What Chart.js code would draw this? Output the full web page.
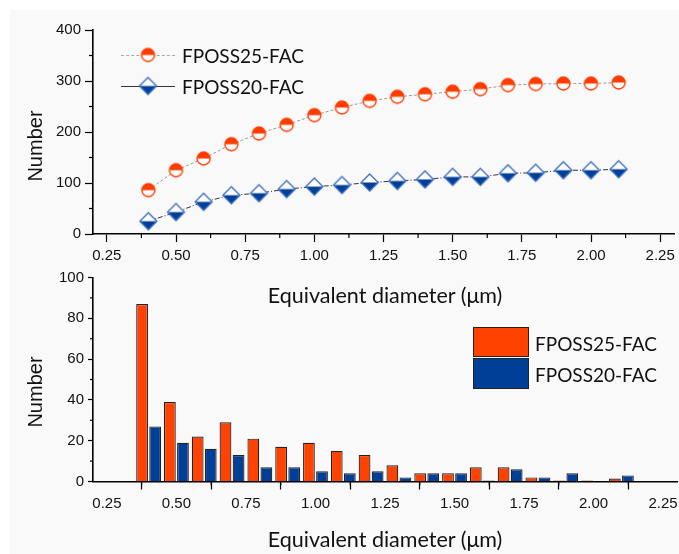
<!DOCTYPE html>
<html>
<head>
<meta charset="utf-8">
<script src="https://cdn.jsdelivr.net/npm/chart.js"></script>
<style>
  body { margin: 0; background: #fff; }
  #wrap { position: relative; width: 679px; height: 554px; overflow: hidden; background: #fff; }
  #panel { position: absolute; left: 10px; top: 10px; right: 0; bottom: 0; background: #f9f9f9; }
  canvas.chart { position: absolute; left: 0; }
  .lbl { position: absolute; white-space: nowrap; color: #111; }
  .ytitle { font: 20px "Liberation Sans", Arial, sans-serif; transform: translate(-50%, -50%) rotate(-90deg); }
  .xtitle { font: 21.5px Lato, "Open Sans", sans-serif; transform: translate(-50%, -50%); }
  .legtxt { font: 19px Lato, "Open Sans", sans-serif; transform: translateY(-50%); }
  .legline { position: absolute; height: 0; }
  .legbox { position: absolute; border: 1.5px solid #222; box-sizing: border-box; }
  .mk { position: absolute; transform: translate(-50%, -50%); line-height: 0; }
</style>
</head>
<body>
<div id="wrap">
  <div id="panel"></div>
  <canvas id="topChart" class="chart" style="top:0" width="679" height="266"></canvas>
  <canvas id="histChart" class="chart" style="top:262px" width="679" height="292"></canvas>

  <div class="lbl ytitle" style="left:35px; top:146px">Number</div>
  <div class="lbl ytitle" style="left:35px; top:392px">Number</div>
  <div class="lbl xtitle" style="left:385px; top:295px">Equivalent diameter (μm)</div>
  <div class="lbl xtitle" style="left:385px; top:539px">Equivalent diameter (μm)</div>

  <div class="legline" style="left:121px; top:55px; width:54px; border-top:1px dashed #aaa"></div>
  <div class="legline" style="left:121px; top:86px; width:54px; border-top:1px solid #333"></div>
  <div class="mk" id="mk1" style="left:148px; top:55px"></div>
  <div class="mk" id="mk2" style="left:148px; top:86px"></div>
  <div class="lbl legtxt" style="left:182px; top:55px">FPOSS25-FAC</div>
  <div class="lbl legtxt" style="left:182px; top:86px">FPOSS20-FAC</div>

  <div class="legbox" style="left:473px; top:327px; width:56px; height:30px; background:#ff4200"></div>
  <div class="legbox" style="left:473px; top:358px; width:56px; height:31px; background:#003f98"></div>
  <div class="lbl legtxt" style="left:535px; top:343px">FPOSS25-FAC</div>
  <div class="lbl legtxt" style="left:535px; top:374px">FPOSS20-FAC</div>
</div>

<script>
// diametros (um)
const diametros = [0.4, 0.5, 0.6, 0.7, 0.8, 0.9, 1.0, 1.1, 1.2, 1.3, 1.4, 1.5, 1.6, 1.7, 1.8, 1.9, 2.0, 2.1];

// acumulado (grafico de arriba)
const acum25 = [86, 125, 148, 176, 197, 214, 233, 248, 261, 269, 274, 279, 284, 292, 294, 295, 295, 297];
const acum20 = [25, 43, 63, 76, 80, 88, 93, 96, 101, 104, 107, 112, 112, 119, 120, 125, 125, 127];

// histograma (grafico de abajo)
const hist25 = [87, 39, 22, 29, 21, 17, 19, 15, 13, 8, 4, 4, 7, 7, 2, 0.5, 0.5, 1.5];
const hist20 = [27, 19, 16, 13, 7, 7, 5, 4, 5, 2, 4, 4, 0.5, 6, 2, 4, 0, 3];

const ticksX = [0.25, 0.5, 0.75, 1.0, 1.25, 1.5, 1.75, 2.0, 2.25];
const ticksArriba = [0, 100, 200, 300, 400];
const ticksAbajo = [0, 20, 40, 60, 80, 100];

const ROJO = '#ff3c00';
const AZUL = '#003f98';

function circuloMitad(r, color){
    const s = Math.ceil(r * 2 + 4);
    const c = document.createElement('canvas');
    c.width = c.height = s;
    const g = c.getContext('2d');
    const m = s / 2;
    g.fillStyle = '#fff';
    g.beginPath(); g.arc(m, m, r, 0, Math.PI * 2); g.fill();
    g.fillStyle = color;
    g.beginPath(); g.arc(m, m, r, Math.PI, Math.PI * 2); g.closePath(); g.fill();
    g.strokeStyle = color; g.lineWidth = 1.4;
    g.beginPath(); g.arc(m, m, r, 0, Math.PI * 2); g.stroke();
    return c;
}

function romboMitad(r, color){
    const s = Math.ceil(r * 2 + 4);
    const c = document.createElement('canvas');
    c.width = c.height = s;
    const g = c.getContext('2d');
    const m = s / 2;
    g.fillStyle = '#fff';
    g.beginPath(); g.moveTo(m, m - r); g.lineTo(m + r, m); g.lineTo(m, m + r); g.lineTo(m - r, m); g.closePath(); g.fill();
    g.fillStyle = color;
    g.beginPath(); g.moveTo(m - r, m); g.lineTo(m + r, m); g.lineTo(m, m + r); g.closePath(); g.fill();
    g.strokeStyle = '#3a6cc0'; g.lineWidth = 1.3;
    g.beginPath(); g.moveTo(m, m - r); g.lineTo(m + r, m); g.lineTo(m, m + r); g.lineTo(m - r, m); g.closePath(); g.stroke();
    return c;
}

document.getElementById('mk1').appendChild(circuloMitad(6.5, ROJO));
document.getElementById('mk2').appendChild(romboMitad(8.5, AZUL));

// marcas menores entre las marcas principales
const marcasMenores = {
    id: 'marcasMenores',
    afterDraw(chart, args, opts){
        const ctx = chart.ctx;
        const area = chart.chartArea;
        ctx.save();
        ctx.strokeStyle = '#000';
        ctx.lineWidth = 1.2;
        ['x', 'y'].forEach(id => {
            const sc = chart.scales[id];
            const len = opts[id];
            const t = sc.ticks.map(k => k.value);
            const paso = t[1] - t[0];
            const medios = [];
            for (let i = 0; i < t.length - 1; i++) medios.push(t[i] + paso / 2);
            medios.push(t[t.length - 1] + paso / 2);
            medios.forEach(v => {
                if (v < sc.min || v > sc.max) return;
                const p = sc.getPixelForValue(v);
                ctx.beginPath();
                if (id === 'x'){ ctx.moveTo(p, area.bottom); ctx.lineTo(p, area.bottom + len); }
                else { ctx.moveTo(area.left, p); ctx.lineTo(area.left - len, p); }
                ctx.stroke();
            });
        });
        ctx.restore();
    }
};

function ejeX(alto, tickLen){
    return {
        type: 'linear', min: 0.2, max: 2.3, offset: false,
        afterBuildTicks: (sc) => { sc.ticks = ticksX.map(v => ({value: v})); },
        afterFit: (sc) => { sc.height = alto; sc.paddingLeft = 0; sc.paddingRight = 0; },
        grid: { display: true, drawOnChartArea: false, drawTicks: true, tickLength: tickLen, color: '#000', tickWidth: 1.2 },
        border: { display: true, color: '#000', width: 1.6 },
        ticks: { padding: 5, color: '#111', font: { family: 'Liberation Sans', size: 15 }, maxRotation: 0,
                 callback: (v) => Number(v).toFixed(2) }
    };
}

function ejeY(max, lista, tickLen){
    return {
        min: 0, max: max,
        afterBuildTicks: (sc) => { sc.ticks = lista.map(v => ({value: v})); },
        afterFit: (sc) => { sc.width = 93; sc.paddingTop = 0; sc.paddingBottom = 0; },
        grid: { display: true, drawOnChartArea: false, drawTicks: true, tickLength: tickLen, color: '#000', tickWidth: 1.2 },
        border: { display: true, color: '#000', width: 1.6 },
        ticks: { padding: 4, color: '#111', font: { family: 'Liberation Sans', size: 15 } }
    };
}

const puntos = (ys) => diametros.map((x, i) => ({x: x, y: ys[i]}));

new Chart(document.getElementById('topChart').getContext('2d'), {
    type: 'line',
    data: {
        datasets: [{
            label: 'FPOSS25-FAC',
            data: puntos(acum25),
            borderColor: '#9a9a9a',
            borderWidth: 1,
            borderDash: [3, 2],
            pointStyle: circuloMitad(6.5, ROJO),
            tension: 0
        }, {
            label: 'FPOSS20-FAC',
            data: puntos(acum20),
            borderColor: '#333',
            borderWidth: 1,
            borderDash: [5, 2, 1, 2],
            pointStyle: romboMitad(8.5, AZUL),
            tension: 0
        }]
    },
    options: {
        responsive: false,
        animation: false,
        layout: { padding: { top: 30, right: 2, left: 0, bottom: 0 } },
        plugins: { legend: { display: false }, tooltip: { enabled: false }, marcasMenores: { x: 4, y: 4 } },
        scales: {
            x: ejeX(32, 8),
            y: ejeY(400, ticksArriba, 8)
        }
    },
    plugins: [marcasMenores]
});

new Chart(document.getElementById('histChart').getContext('2d'), {
    type: 'bar',
    data: {
        datasets: [{
            label: 'FPOSS25-FAC',
            data: puntos(hist25),
            backgroundColor: '#ff4200',
            borderColor: '#222',
            borderWidth: 1.2,
            borderSkipped: 'bottom',
            categoryPercentage: 0.94,
            barPercentage: 0.9
        }, {
            label: 'FPOSS20-FAC',
            data: puntos(hist20),
            backgroundColor: AZUL,
            borderColor: '#222',
            borderWidth: 1.2,
            borderSkipped: 'bottom',
            categoryPercentage: 0.94,
            barPercentage: 0.9
        }]
    },
    options: {
        responsive: false,
        animation: false,
        layout: { padding: { top: 15.5, right: 2, left: 0, bottom: 0 } },
        plugins: { legend: { display: false }, tooltip: { enabled: false }, marcasMenores: { x: 4, y: 3 } },
        scales: {
            x: ejeX(72.5, 8),
            y: ejeY(100, ticksAbajo, 5)
        }
    },
    plugins: [marcasMenores]
});
</script>
</body>
</html>
